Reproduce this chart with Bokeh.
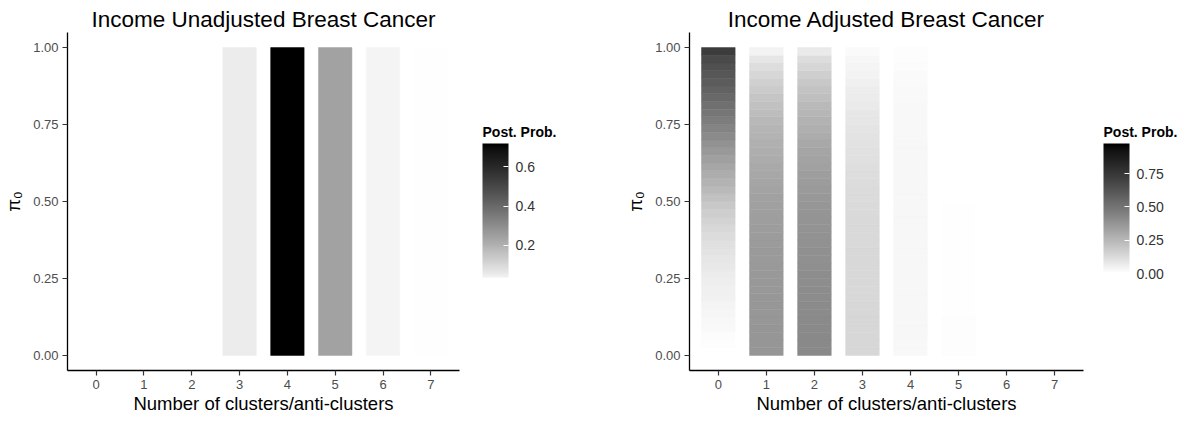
from bokeh.plotting import figure
from bokeh.models import (ColumnDataSource, LinearColorMapper, ColorBar,
                          FixedTicker, NumeralTickFormatter, Range1d)
from bokeh.layouts import row
from bokeh.transform import transform
from bokeh.embed import file_html
from bokeh.resources import INLINE

# ---------------- data ----------------
clusters = [0, 1, 2, 3, 4, 5, 6, 7]
y_ticks = [0.0, 0.25, 0.5, 0.75, 1.0]

# Income unadjusted: posterior probability per number of clusters (flat over pi0)
unadj_prob = [0.0, 0.0, 0.0, 0.05, 0.72, 0.24, 0.03, 0.004]
unadj_limits = [0.0, 0.72]          # fill scale limits
unadj_bar_limits = [0.035, 0.72]    # range shown in the colour bar
unadj_bar_ticks = [0.2, 0.4, 0.6]

# Income adjusted: posterior probability per pi0 band (band centres, height 0.025)
pi0_rows = [0.0125, 0.0375, 0.0625, 0.0875, 0.1125, 0.1375, 0.1625, 0.1875,
            0.2125, 0.2375, 0.2625, 0.2875, 0.3125, 0.3375, 0.3625, 0.3875,
            0.4125, 0.4375, 0.4625, 0.4875, 0.5125, 0.5375, 0.5625, 0.5875,
            0.6125, 0.6375, 0.6625, 0.6875, 0.7125, 0.7375, 0.7625, 0.7875,
            0.8125, 0.8375, 0.8625, 0.8875, 0.9125, 0.9375, 0.9625, 0.9875]
adj_k0 = [0.0, 0.008, 0.014, 0.020, 0.026, 0.032, 0.039, 0.046,
          0.053, 0.060, 0.068, 0.077, 0.087, 0.097, 0.108, 0.120,
          0.134, 0.150, 0.168, 0.190, 0.215, 0.240, 0.263, 0.287,
          0.310, 0.335, 0.360, 0.385, 0.410, 0.437, 0.463, 0.490,
          0.517, 0.543, 0.568, 0.592, 0.615, 0.640, 0.670, 0.730]
adj_k1 = [0.372, 0.372, 0.371, 0.370, 0.369, 0.368, 0.367, 0.366,
          0.364, 0.363, 0.361, 0.360, 0.357, 0.355, 0.352, 0.349,
          0.346, 0.342, 0.338, 0.333, 0.328, 0.322, 0.315, 0.307,
          0.299, 0.291, 0.283, 0.275, 0.266, 0.256, 0.245, 0.232,
          0.217, 0.200, 0.182, 0.162, 0.140, 0.115, 0.085, 0.045]
adj_k2 = [0.418, 0.417, 0.416, 0.414, 0.413, 0.411, 0.409, 0.407,
          0.405, 0.403, 0.401, 0.399, 0.396, 0.393, 0.390, 0.387,
          0.383, 0.379, 0.375, 0.370, 0.364, 0.357, 0.349, 0.340,
          0.331, 0.322, 0.313, 0.303, 0.292, 0.280, 0.267, 0.254,
          0.240, 0.224, 0.207, 0.188, 0.167, 0.143, 0.115, 0.075]
adj_k3 = [0.140, 0.140, 0.140, 0.139, 0.139, 0.138, 0.138, 0.137,
          0.137, 0.136, 0.136, 0.135, 0.135, 0.134, 0.133, 0.132,
          0.131, 0.130, 0.128, 0.127, 0.125, 0.122, 0.119, 0.116,
          0.113, 0.109, 0.105, 0.101, 0.097, 0.092, 0.087, 0.081,
          0.075, 0.068, 0.061, 0.053, 0.045, 0.037, 0.028, 0.018]
adj_k4 = [0.026, 0.026, 0.027, 0.027, 0.027, 0.028, 0.028, 0.028,
          0.028, 0.028, 0.029, 0.029, 0.029, 0.029, 0.029, 0.029,
          0.029, 0.029, 0.029, 0.029, 0.029, 0.029, 0.028, 0.028,
          0.028, 0.028, 0.027, 0.027, 0.026, 0.026, 0.025, 0.024,
          0.023, 0.022, 0.020, 0.018, 0.016, 0.014, 0.011, 0.008]
adj_k5 = [0.008, 0.008, 0.008, 0.008, 0.008, 0.007, 0.007, 0.007,
          0.007, 0.007, 0.006, 0.006, 0.006, 0.006, 0.005, 0.005,
          0.005, 0.004, 0.004, 0.004, 0.0, 0.0, 0.0, 0.0,
          0.0, 0.0, 0.0, 0.0, 0.0, 0.0, 0.0, 0.0,
          0.0, 0.0, 0.0, 0.0, 0.0, 0.0, 0.0, 0.0]
adj_k6 = [0.0] * 40
adj_k7 = [0.0] * 40
adj_row_height = 0.025
adj_limits = [0.0, 0.975]
adj_bar_ticks = [0.0, 0.25, 0.5, 0.75]

legend_title = "Post. Prob."
FONT = "Liberation Sans"


def lab_gray(t):
    """white -> black interpolated in CIELAB lightness"""
    t = min(max(t, 0.0), 1.0)
    L = 100.0 * (1.0 - t)
    fy = (L + 16.0) / 116.0
    Y = fy ** 3 if fy ** 3 > 0.008856 else L / 903.3
    c = 1.055 * Y ** (1 / 2.4) - 0.055 if Y > 0.0031308 else 12.92 * Y
    v = int(round(255 * min(max(c, 0), 1)))
    return "#%02x%02x%02x" % (v, v, v)


def palette(lo, hi, limits, n=256):
    span = limits[1] - limits[0]
    return [lab_gray((lo + (hi - lo) * i / (n - 1) - limits[0]) / span) for i in range(n)]


def make_fig(title, left_border, frame_w, fig_w):
    p = figure(width=fig_w, height=422,
               x_range=Range1d(-0.6, 7.6), y_range=Range1d(-0.049, 1.049),
               output_backend="svg", toolbar_location=None,
               min_border_left=left_border,
               min_border_right=fig_w - left_border - frame_w,
               min_border_top=32, min_border_bottom=52)
    p.title.text = title
    p.title.align = "center"
    p.title.text_font = FONT
    p.title.text_font_size = "22.5px"
    p.title.text_font_style = "normal"
    p.title.text_color = "black"
    p.title.standoff = 1
    p.grid.visible = False
    p.outline_line_color = None
    p.background_fill_color = "white"
    p.border_fill_color = "white"
    p.xaxis.ticker = FixedTicker(ticks=clusters)
    p.xaxis.axis_label = "Number of clusters/anti-clusters"
    p.yaxis.ticker = FixedTicker(ticks=y_ticks)
    p.yaxis.formatter = NumeralTickFormatter(format="0.00")
    p.yaxis.axis_label = "π₀"
    for ax in p.axis:
        ax.axis_line_color = "black"
        ax.axis_line_width = 1.3
        ax.major_tick_line_color = "#333333"
        ax.major_tick_line_width = 1.2
        ax.major_tick_out = 5
        ax.major_tick_in = 0
        ax.minor_tick_line_color = None
        ax.major_label_text_font = FONT
        ax.major_label_text_font_size = "13px"
        ax.major_label_text_color = "#4D4D4D"
        ax.axis_label_text_font = FONT
        ax.axis_label_text_font_size = "18.5px"
        ax.axis_label_text_font_style = "normal"
        ax.axis_label_text_color = "black"
    p.xaxis.major_label_standoff = 4
    p.xaxis.axis_label_standoff = 1
    p.yaxis.major_label_standoff = 4
    p.yaxis.axis_label_standoff = 6
    return p


def add_colorbar(p, lo, hi, limits, ticks, fmt, offset_x, offset_y, height):
    mapper = LinearColorMapper(palette=palette(lo, hi, limits), low=lo, high=hi)
    cb = ColorBar(color_mapper=mapper, ticker=FixedTicker(ticks=ticks),
                  formatter=NumeralTickFormatter(format=fmt),
                  width=26, height=height, location=(offset_x, offset_y),
                  orientation="vertical", padding=0, margin=0,
                  major_label_text_font=FONT, major_label_text_font_size="14px",
                  major_label_text_color="#333333", label_standoff=7,
                  major_tick_line_color="white", major_tick_in=5, major_tick_out=0,
                  minor_tick_line_color=None, bar_line_color=None,
                  border_line_color=None, background_fill_color=None)
    p.add_layout(cb, "center")
    # legend title: a flat horizontal bar (white, invisible) that carries the
    # title horizontally just above the vertical colour bar
    title_mapper = LinearColorMapper(palette=["#ffffff"], low=0, high=1)
    tb = ColorBar(color_mapper=title_mapper, ticker=FixedTicker(ticks=[]),
                  title=legend_title, title_text_font=FONT,
                  title_text_font_size="14px", title_text_font_style="bold",
                  title_text_color="black", title_standoff=0,
                  orientation="horizontal", width=80, height=1,
                  location=(offset_x, offset_y + height + 3),
                  padding=0, margin=0, major_label_text_alpha=0,
                  major_label_text_font_size="1px",
                  major_tick_line_color=None, minor_tick_line_color=None,
                  bar_line_color=None, border_line_color=None,
                  background_fill_color=None)
    p.add_layout(tb, "center")


# ---------------- left panel ----------------
left = make_fig("Income Unadjusted Breast Cancer", 67, 392, 598)
left_mapper = LinearColorMapper(palette=palette(unadj_limits[0], unadj_limits[1], unadj_limits),
                                low=unadj_limits[0], high=unadj_limits[1])
src_left = ColumnDataSource(dict(x=clusters, y=[0.5] * len(clusters),
                                 h=[1.0] * len(clusters), v=unadj_prob))
left.rect(x="x", y="y", width=0.7, height="h", source=src_left,
          fill_color=transform("v", left_mapper),
          line_color=transform("v", left_mapper), line_width=0.5)
add_colorbar(left, unadj_bar_limits[0], unadj_bar_limits[1], unadj_limits,
             unadj_bar_ticks, "0.0", 415, 93, 134)

# ---------------- right panel ----------------
right = make_fig("Income Adjusted Breast Cancer", 91, 394, 598)
adj_cols = [adj_k0, adj_k1, adj_k2, adj_k3, adj_k4, adj_k5, adj_k6, adj_k7]
xs, ys, hs, vs = [], [], [], []
for k, col in zip(clusters, adj_cols):
    for y, v in zip(pi0_rows, col):
        xs.append(k)
        ys.append(y)
        hs.append(adj_row_height)
        vs.append(v)
right_mapper = LinearColorMapper(palette=palette(adj_limits[0], adj_limits[1], adj_limits),
                                 low=adj_limits[0], high=adj_limits[1])
src_right = ColumnDataSource(dict(x=xs, y=ys, h=hs, v=vs))
right.rect(x="x", y="y", width=0.7, height="h", source=src_right,
           fill_color=transform("v", right_mapper),
           line_color=transform("v", right_mapper), line_width=0.5)
add_colorbar(right, adj_limits[0], adj_limits[1], adj_limits,
             adj_bar_ticks, "0.00", 414, 97, 130)

layout = row(left, right)
open("out.html", "w").write(file_html(layout, INLINE))
